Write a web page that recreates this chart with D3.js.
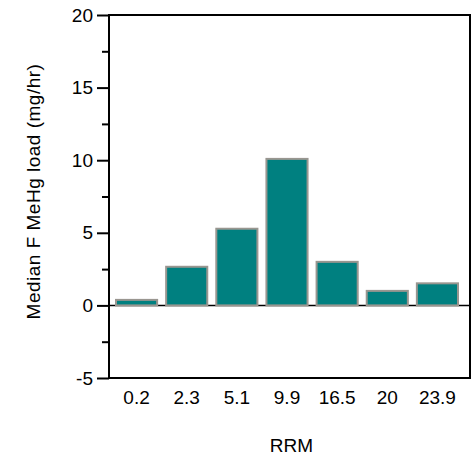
<!DOCTYPE html>
<html>
<head>
<meta charset="utf-8">
<script src="https://cdn.jsdelivr.net/npm/d3@7"></script>
<style>
body { margin: 0; background: #fff; }
svg text { font-family: "Liberation Sans", Arial, sans-serif; font-size: 19px; fill: #000; }
</style>
</head>
<body>
<div id="graphic"></div>
<script>
var categories = ["0.2", "2.3", "5.1", "9.9", "16.5", "20", "23.9"];
var values = [0.38, 2.66, 5.28, 10.09, 3.0, 1.0, 1.52];
var majorTicks = [-5, 0, 5, 10, 15, 20];
var minorTicks = [-2.5, 2.5, 7.5, 12.5, 17.5];

var width = 476, height = 455;
var margin = { top: 15, right: 6, bottom: 77, left: 109 };
var chart_width = width - margin.left - margin.right;
var chart_height = height - margin.top - margin.bottom;

var svg = d3.select("#graphic")
	.append("svg")
	.attr("width", width)
	.attr("height", height)
	.append("g")
	.attr("transform", "translate(" + margin.left + "," + margin.top + ")");

var x = d3.scaleBand()
	.domain(categories)
	.range([3, chart_width - 8])
	.paddingInner(0.18)
	.paddingOuter(0.08);

var y = d3.scaleLinear()
	.domain([-5, 20])
	.range([chart_height, 0]);

// zero line behind the bars
svg.append("line")
	.attr("x1", 0)
	.attr("x2", chart_width)
	.attr("y1", y(0))
	.attr("y2", y(0))
	.attr("stroke", "#000")
	.attr("stroke-width", 1.5);

svg.selectAll(".bar")
	.data(values)
	.enter()
	.append("rect")
	.attr("class", "bar")
	.attr("x", function(d, i) { return x(categories[i]); })
	.attr("width", x.bandwidth())
	.attr("y", function(d) { return y(d); })
	.attr("height", function(d) { return y(0) - y(d); })
	.attr("fill", "#008080")
	.attr("stroke", "#999690")
	.attr("stroke-width", 2);

// frame
svg.append("rect")
	.attr("x", 0)
	.attr("y", 0)
	.attr("width", chart_width)
	.attr("height", chart_height)
	.attr("fill", "none")
	.attr("stroke", "#000")
	.attr("stroke-width", 2);

// y axis
var yAxis = d3.axisLeft(y)
	.tickValues(majorTicks)
	.tickSize(12)
	.tickPadding(4)
	.tickFormat(function(d) { return String(d); });

var gy = svg.append("g").call(yAxis).attr("font-size", null).attr("font-family", null);
gy.select(".domain").remove();
gy.selectAll(".tick line").attr("stroke-width", 2);

var gm = svg.append("g").call(d3.axisLeft(y).tickValues(minorTicks).tickSize(7).tickFormat(""));
gm.select(".domain").remove();
gm.selectAll(".tick line").attr("stroke-width", 2);

// x labels
svg.selectAll(".xlab")
	.data(categories)
	.enter()
	.append("text")
	.attr("class", "xlab")
	.attr("x", function(d) { return x(d) + x.bandwidth() / 2; })
	.attr("y", chart_height + 26)
	.attr("text-anchor", "middle")
	.text(function(d) { return d; });

svg.append("text")
	.attr("x", chart_width / 2 + 2)
	.attr("y", chart_height + 74)
	.attr("text-anchor", "middle")
	.text("RRM");

svg.append("text")
	.attr("transform", "translate(" + (-69) + "," + (chart_height / 2 - 5) + ") rotate(-90)")
	.attr("text-anchor", "middle")
	.style("letter-spacing", "0.5px")
	.text("Median F MeHg load (mg/hr)");
</script>
</body>
</html>
